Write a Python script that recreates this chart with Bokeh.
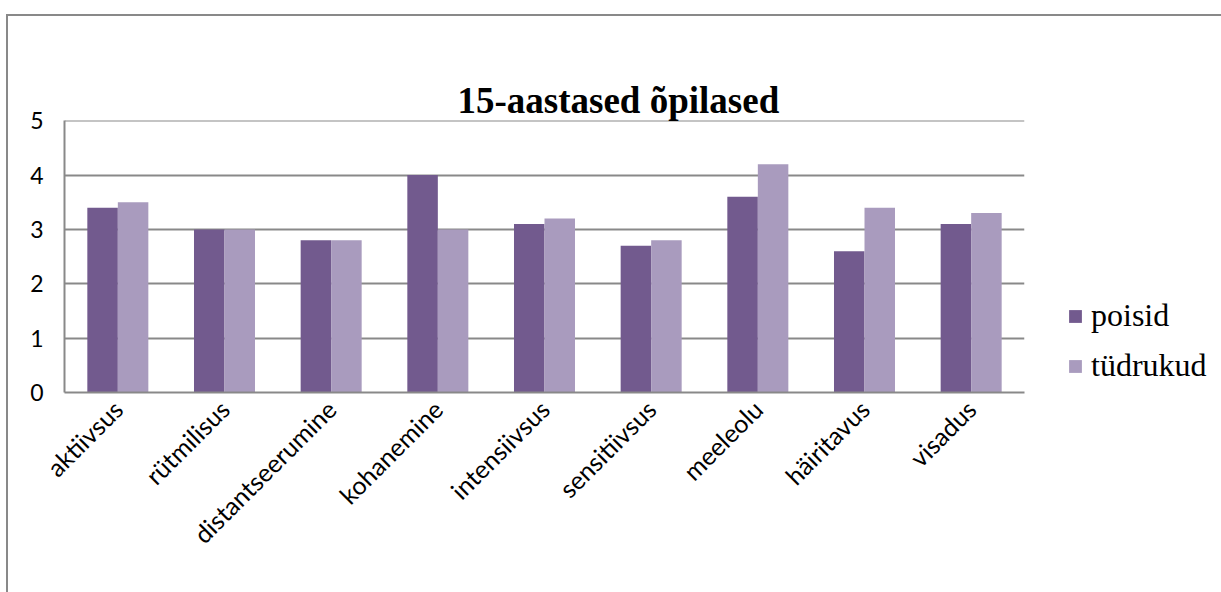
from bokeh.plotting import figure
from bokeh.models import ColumnDataSource, FactorRange, FixedTicker, Legend, LegendItem, Range1d, Title
from bokeh.transform import dodge
from bokeh.embed import file_html
from bokeh.resources import INLINE
import math

categories = ["aktiivsus", "rütmilisus", "distantseerumine", "kohanemine", "intensiivsus",
              "sensitiivsus", "meeleolu", "häiritavus", "visadus"]
poisid = [3.4, 3.0, 2.8, 4.0, 3.1, 2.7, 3.6, 2.6, 3.1]
tudrukud = [3.5, 3.0, 2.8, 3.0, 3.2, 2.8, 4.2, 3.4, 3.3]
series_names = ["poisid", "tüdrukud"]
y_ticks = [0, 1, 2, 3, 4, 5]
title_text = "15-aastased õpilased"

src = ColumnDataSource(dict(cat=categories, poisid=poisid, tudrukud=tudrukud))

p = figure(x_range=FactorRange(*categories, range_padding=0), y_range=Range1d(0, 5.004),
           frame_width=960, frame_height=272, output_backend="svg", toolbar_location=None,
           min_border_left=56, min_border_right=197, min_border_top=104, min_border_bottom=200)

p.styles = {"border-top": "2px solid #898989", "border-left": "2px solid #898989"}
p.margin = (14, 0, 0, 6)

gray = "#898989"
bw = 0.286
r1 = p.vbar(x=dodge("cat", -bw / 2, range=p.x_range), top="poisid", width=bw, source=src,
            fill_color="#725A8E", line_color=None)
r2 = p.vbar(x=dodge("cat", bw / 2, range=p.x_range), top="tudrukud", width=bw, source=src,
            fill_color="#A99BBE", line_color=None)

p.outline_line_color = None
p.xgrid.grid_line_color = None
p.ygrid.grid_line_color = gray
p.ygrid.grid_line_width = 2
p.ygrid.ticker = FixedTicker(ticks=y_ticks)

p.yaxis.ticker = FixedTicker(ticks=y_ticks)
p.yaxis.axis_line_color = gray
p.yaxis.axis_line_width = 2
p.yaxis.major_tick_line_color = None
p.yaxis.minor_tick_line_color = None
p.yaxis.major_label_standoff = 15
p.yaxis.major_label_text_font = "Lato"
p.yaxis.major_label_text_font_size = "23px"
p.yaxis.major_label_text_color = "#000000"

p.xaxis.axis_line_color = gray
p.xaxis.axis_line_width = 2
p.xaxis.major_tick_line_color = None
p.xaxis.minor_tick_line_color = None
p.xaxis.major_label_orientation = math.pi / 4
p.xaxis.major_label_standoff = 6
p.xaxis.major_label_text_font = "Lato"
p.xaxis.major_label_text_font_size = "25px"
p.xaxis.major_label_text_color = "#000000"

# built-in title left empty; real title and an invisible spacer stacked above the frame
p.title.text = ""
p.title.standoff = 0
main_title = Title(text=title_text, text_font="Liberation Serif", text_font_style="bold",
                   text_font_size="37px", text_color="#000000", align="left",
                   offset=393, standoff=0)
p.add_layout(main_title, "above")
spacer = Title(text=".", text_font_size="10px", text_alpha=0, standoff=33)
p.add_layout(spacer, "above")

legend = Legend(items=[LegendItem(label=series_names[0], renderers=[r1]),
                       LegendItem(label=series_names[1], renderers=[r2])],
                location=(43, 8))
legend.label_text_font = "Liberation Serif"
legend.label_text_font_size = "32px"
legend.label_text_color = "#000000"
legend.glyph_width = 16
legend.glyph_height = 16
legend.label_standoff = 8
legend.label_height = 30
legend.spacing = 13
legend.padding = 0
legend.margin = 0
legend.border_line_color = None
legend.background_fill_alpha = 0
p.add_layout(legend, "right")

open("out.html", "w").write(file_html(p, INLINE))
